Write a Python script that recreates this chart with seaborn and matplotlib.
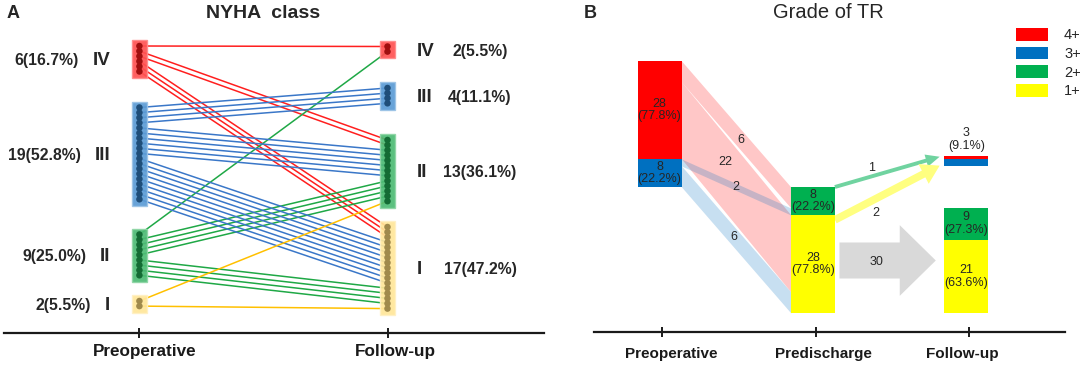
import numpy as np
import pandas as pd
import matplotlib
matplotlib.use("Agg")
import matplotlib.pyplot as plt
from matplotlib.patches import Patch
from matplotlib.transforms import ScaledTranslation
import seaborn as sns

# NYHA class (panel A)
nyha_classes = ["IV", "III", "II", "I"]
nyha_pre_n = [6, 19, 9, 2]
nyha_pre_pct = ["16.7%", "52.8%", "25.0%", "5.5%"]
nyha_post_n = [2, 4, 13, 17]
nyha_post_pct = ["5.5%", "11.1%", "36.1%", "47.2%"]
# how many patients went from class -> class
move_from = ["IV", "IV", "IV", "III", "III", "III", "II", "II", "II", "I", "I"]
move_to = ["IV", "II", "I", "III", "II", "I", "IV", "II", "I", "II", "I"]
move_n = [1, 2, 3, 4, 6, 9, 1, 4, 4, 1, 1]

# Grade of TR (panel B)
tr_grades = ["4+", "3+", "2+", "1+"]
tr_stages = ["Preoperative", "Predischarge", "Follow-up"]
tr_pre_n = [28, 8, 0, 0]
tr_pre_pct = ["77.8%", "22.2%", "", ""]
tr_dis_n = [0, 0, 8, 28]
tr_dis_pct = ["", "", "22.2%", "77.8%"]
tr_fu_n = [1, 2, 9, 21]
tr_fu_pct = ["", "", "27.3%", "63.6%"]
tr_fu_worse = ["4+", "3+"]
tr_fu_worse_pct = "9.1%"
flow_from = ["4+", "4+", "3+", "3+"]
flow_to = ["2+", "1+", "2+", "1+"]
flow_n = [6, 22, 2, 6]
worse_from = ["2+", "1+"]
worse_n = [1, 2]
kept_n = 30

# colours
line_pal = {"IV": "#ff1f1f", "III": "#3a77c8", "II": "#1fa846", "I": "#ffc000"}
box_pal = {"IV": "#ff5252", "III": "#5b9bd5", "II": "#4dbb74", "I": "#ffe699"}
box_edge = {"IV": "#ff8c8c", "III": "#9cc3e6", "II": "#8fd6a6", "I": "#fff0c4"}
dot_pal = {"IV": "#a00f0f", "III": "#1f4e79", "II": "#136b34", "I": "#a08a4c"}
tr_pal = {"4+": "#ff0000", "3+": "#0070c0", "2+": "#00b050", "1+": "#ffff00"}

sns.set_theme(style="white")
plt.rcParams["font.family"] = ["Liberation Sans", "DejaVu Sans"]

W, H = 1084, 367
fig = plt.figure(figsize=(W / 100, H / 100), dpi=100)
axA = fig.add_axes([0, 0, 544 / W, 1])
axB = fig.add_axes([540 / W, 0, 544 / W, 1])
for ax in (axA, axB):
    ax.set_facecolor("none")

# ---------------- panel A ----------------
# pixel-like layout for panel A
a0, a_unit = 139.4, 248.1
xa = lambda px: (px - a0) / a_unit
pre_top = {"IV": 46, "III": 107.5, "II": 234.5, "I": 301}
post_top = {"IV": 46.5, "III": 88, "II": 140, "I": 227}
gap = 5.1

rank = {c: len(nyha_classes) - i for i, c in enumerate(nyha_classes)}
pts = pd.DataFrame({"pre": np.repeat(move_from, move_n),
                    "post": np.repeat(move_to, move_n)})
pts["rp"] = pts["pre"].map(rank)
pts["rq"] = pts["post"].map(rank)
pts = pts.sort_values(["rp", "rq"], ascending=False, kind="stable")
pts["y_pre"] = pts["pre"].map(pre_top) + pts.groupby("pre").cumcount() * gap
pts = pts.sort_values(["rq", "rp"], ascending=False, kind="stable")
pts["y_post"] = pts["post"].map(post_top) + pts.groupby("post").cumcount() * gap
pts["pid"] = np.arange(len(pts))

lines = pd.concat([
    pd.DataFrame({"pid": pts["pid"], "stage": 0, "y": pts["y_pre"], "cls": pts["pre"]}),
    pd.DataFrame({"pid": pts["pid"], "stage": 1, "y": pts["y_post"], "cls": pts["pre"]}),
])
dots = pd.concat([
    pd.DataFrame({"stage": 0, "y": pts["y_pre"], "cls": pts["pre"]}),
    pd.DataFrame({"stage": 1, "y": pts["y_post"], "cls": pts["post"]}),
])

sns.lineplot(data=lines, x="stage", y="y", hue="cls", units="pid", estimator=None,
             palette=line_pal, legend=False, lw=1.1, ax=axA, zorder=1)

for stage, counts, tops in [(0, nyha_pre_n, pre_top), (1, nyha_post_n, post_top)]:
    for cls, n in zip(nyha_classes, counts):
        first = tops[cls]
        last = first + (n - 1) * gap
        axA.bar(stage, last - first + 12.6, bottom=first - 5.8, width=0.06,
                color=box_pal[cls], edgecolor=box_edge[cls], lw=1, alpha=0.92, zorder=3)

sns.scatterplot(data=dots, x="stage", y="y", hue="cls", palette=dot_pal, s=22,
                linewidth=0, legend=False, ax=axA, zorder=4)

for cls, n, pct in zip(nyha_classes, nyha_pre_n, nyha_pre_pct):
    yc = pre_top[cls] + (n - 1) * gap / 2 + 2
    r = axA.text(xa(110.5), yc, cls, ha="right", va="center", fontsize=13.5, fontweight="bold")
    axA.annotate(f"{n}({pct})", xy=(0, 0.5), xycoords=r, xytext=(-10, 0),
                 textcoords="offset points", ha="right", va="center",
                 fontsize=11.3, fontweight="bold")

for cls, n, pct in zip(nyha_classes, nyha_post_n, nyha_post_pct):
    yc = post_top[cls] + (n - 1) * gap / 2 + 2
    axA.text(xa(416.7), yc, cls, ha="left", va="center", fontsize=13.5, fontweight="bold")
    axA.text(xa(480), yc, f"{n}({pct})", ha="center", va="center", fontsize=11.3,
             fontweight="bold")

axA.set_xlim(xa(0), xa(544))
axA.set_ylim(H, 0)

# ---------------- panel B ----------------
b0, b_unit = 662.3, 153.35   # px of first stage, px per stage
py = 3.5                      # px per patient
base_px = 313
xb = lambda px: (px - b0) / b_unit
bw = 0.287
shift = -0.018
fs_b = 9

rank_tr = {g: len(tr_grades) - i for i, g in enumerate(tr_grades)}
seg = {}


def stack(stage, counts, grades, base):
    b = base
    for g in reversed(grades):
        n = counts[tr_grades.index(g)]
        if n:
            seg[(stage, g)] = (b, b + n)
            b += n
    return b


stack(1, tr_dis_n, tr_grades, 0)
stack(0, tr_pre_n, tr_grades, sum(tr_dis_n))
fu_good = [g for g in tr_grades if g not in tr_fu_worse]
good_top = stack(2, tr_fu_n, fu_good, 0)
worse_base = good_top + 12
worse_top = stack(2, tr_fu_n, tr_fu_worse, worse_base)

counts_by_stage = {0: (tr_pre_n, tr_pre_pct), 1: (tr_dis_n, tr_dis_pct), 2: (tr_fu_n, tr_fu_pct)}
for (stage, g), (b, t) in seg.items():
    axB.bar(stage + shift, t - b, bottom=b, width=bw, color=tr_pal[g], lw=0, zorder=3)
    cnts, pcts = counts_by_stage[stage]
    i = tr_grades.index(g)
    if pcts[i]:
        axB.text(stage + shift, (b + t) / 2, f"{cnts[i]}\n({pcts[i]})", ha="center",
                 va="center", fontsize=fs_b, linespacing=1.1, zorder=5)

axB.text(2 + shift, worse_top + 1, f"{sum(tr_fu_n[:2])}\n({tr_fu_worse_pct})",
         ha="center", va="bottom", fontsize=fs_b, linespacing=1.1)

# flows preoperative -> predischarge
flows = pd.DataFrame({"src": flow_from, "dst": flow_to, "n": flow_n})
flows["rs"] = flows["src"].map(rank_tr)
flows["rd"] = flows["dst"].map(rank_tr)
flows = flows.sort_values(["rs", "rd"], ascending=False)
cur = {g: seg[(0, g)][1] for g in flows["src"].unique()}
for idx, row in flows.iterrows():
    flows.loc[idx, "s_top"] = cur[row["src"]]
    cur[row["src"]] -= row["n"]
    flows.loc[idx, "s_bot"] = cur[row["src"]]
flows = flows.sort_values(["rd", "rs"], ascending=False)
cur = {g: seg[(1, g)][1] for g in flows["dst"].unique()}
for idx, row in flows.iterrows():
    flows.loc[idx, "d_top"] = cur[row["dst"]]
    cur[row["dst"]] -= row["n"]
    flows.loc[idx, "d_bot"] = cur[row["dst"]]

label_t = [0.54, 0.40, 0.50, 0.48]
label_dy = [0, 3.4, 0, 0]
x0, x1 = 0 + shift + bw / 2, 1 + shift - bw / 2
for k, (idx, row) in enumerate(flows.sort_values("rs", ascending=False).iterrows()):
    axB.fill_between([x0, x1], [row["s_bot"], row["d_bot"]], [row["s_top"], row["d_top"]],
                     color=tr_pal[row["src"]], alpha=0.22, lw=0, zorder=1 + 0.1 * k)
    t = label_t[idx]
    ms = (row["s_top"] + row["s_bot"]) / 2
    md = (row["d_top"] + row["d_bot"]) / 2
    axB.text(x0 + t * (x1 - x0), ms + t * (md - ms) + label_dy[idx], str(row["n"]),
             ha="center", va="center", fontsize=fs_b, zorder=6)

# predischarge -> follow-up
ax_start = 1 + shift + bw / 2
ax_tip = 2 + shift - bw / 2 - 0.03
arrow_specs = {
    "2+": dict(y0=seg[(1, "2+")][1], y1=worse_top - 0.35, color="#70d3a0",
               style="simple,head_length=1.0,head_width=0.9,tail_width=0.28",
               t=0.35, dy=2.5),
    "1+": dict(y0=seg[(1, "1+")][1] - 1.4, y1=worse_base + 0.1, color="#ffff80",
               style="simple,head_length=1.3,head_width=1.6,tail_width=0.55",
               t=0.39, dy=-4.1),
}
for g, n in zip(worse_from, worse_n):
    sp = arrow_specs[g]
    axB.annotate("", xy=(ax_tip, sp["y1"]), xytext=(ax_start, sp["y0"]),
                 arrowprops=dict(arrowstyle=sp["style"], color=sp["color"], lw=0,
                                 shrinkA=0, shrinkB=0, mutation_scale=10), zorder=2)
    t = sp["t"]
    axB.text(ax_start + t * (ax_tip - ax_start), sp["y0"] + t * (sp["y1"] - sp["y0"]) + sp["dy"],
             str(n), ha="center", va="center", fontsize=fs_b)

gx0 = 1 + shift + bw / 2 + 0.03
gx1 = 2 + shift - bw / 2 - 0.055
axB.arrow(gx0, kept_n / 2, gx1 - gx0, 0, width=10.3, head_width=20.2, head_length=0.235,
          length_includes_head=True, color="#d9d9d9", lw=0, zorder=2)
axB.text(gx0 + 0.38 * (gx1 - gx0), kept_n / 2 - 0.3, str(kept_n), ha="center",
         va="center", fontsize=fs_b, zorder=3)

axB.set_xlim(xb(540), xb(1084))
axB.set_ylim((base_px - H) / py, base_px / py)

handles = [Patch(facecolor=tr_pal[g], edgecolor="none") for g in tr_grades]
axB.legend(handles, tr_grades, loc="upper left", bbox_to_anchor=(1016 / W, 1 - 28 / H),
           bbox_transform=fig.transFigure, frameon=False, borderpad=0, borderaxespad=0,
           handlelength=2.2, handleheight=0.95, handletextpad=1.1, labelspacing=0.3,
           fontsize=10.5)

# ---------------- axes ----------------
axis_specs = [
    (axA, ["Preoperative", "Follow-up"], 333.3, (xa(3.6), xa(543.6)), 12.3, 4, [5.3, 8.2]),
    (axB, tr_stages, (base_px - 332.3) / py, (xb(594), xb(1065)), 11, 6.5, [8.5, 8, -6.5]),
]
for ax, labels, ypos, bounds, lsize, pad, offs in axis_specs:
    for s in ("left", "right", "top"):
        ax.spines[s].set_visible(False)
    sp = ax.spines["bottom"]
    sp.set_position(("data", ypos))
    sp.set_bounds(*bounds)
    sp.set_linewidth(1.6)
    sp.set_color("#1a1a1a")
    ax.set_xticks(range(len(labels)), labels)
    ax.set_yticks([])
    ax.set_xlabel("")
    ax.set_ylabel("")
    ax.tick_params(axis="x", bottom=True, direction="inout", length=7.6, width=1.4,
                   color="#1a1a1a", pad=pad, labelsize=lsize, labelcolor="#1a1a1a")
    for lbl, dx in zip(ax.get_xticklabels(), offs):
        lbl.set_fontweight("bold")
        lbl.set_transform(lbl.get_transform() + ScaledTranslation(dx / 100, 0, fig.dpi_scale_trans))

fig.text(13 / W, 1 - 13 / H, "A", ha="center", va="center", fontsize=13, fontweight="bold")
fig.text(590.5 / W, 1 - 13 / H, "B", ha="center", va="center", fontsize=13, fontweight="bold")
fig.text(263.5 / W, 1 - 13 / H, "NYHA  class", ha="center", va="center", fontsize=14,
         fontweight="bold")
fig.text(828 / W, 1 - 13 / H, "Grade of TR", ha="center", va="center", fontsize=14.5)

fig.savefig("out.png", dpi=100)
